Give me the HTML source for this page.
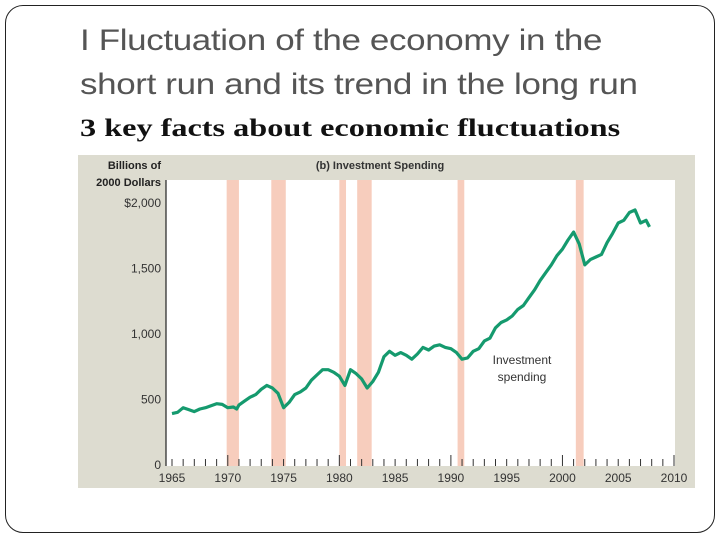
<!DOCTYPE html>
<html><head><meta charset="utf-8"><style>
body{margin:0;width:720px;height:540px;background:#fff;overflow:hidden;position:relative;font-family:"Liberation Sans",sans-serif}
.frame{position:absolute;left:5px;top:5px;width:708px;height:526px;border:1.5px solid #222;border-radius:18px}
.t{position:absolute;left:80px;color:#555;font-size:30px;line-height:44px;letter-spacing:-0.3px;transform-origin:0 0;transform:scaleX(1.165);white-space:nowrap}
.sub{position:absolute;left:80px;top:115px;font-family:"Liberation Serif",serif;font-weight:bold;font-size:25px;color:#111;transform-origin:0 0;transform:scaleX(1.29);white-space:nowrap}
</style></head><body>
<div class="frame"></div>
<div class="t" style="top:19px">I Fluctuation of the economy in the<br>short run and its trend in the long run</div>
<div class="sub">3 key facts about economic fluctuations</div>
<svg id="c" width="720" height="540" style="position:absolute;left:0;top:0"></svg>
<script>
const recessions=[[1969.9,1971.0],[1973.9,1975.2],[1980.0,1980.6],[1981.6,1982.9],[1990.6,1991.2],[2001.2,2001.9]];
const years=[1965,1965.5,1966,1966.5,1967,1967.5,1968,1968.5,1969,1969.5,1970,1970.5,1970.8,1971,1971.5,1972,1972.5,1973,1973.5,1974,1974.5,1975,1975.5,1976,1976.5,1977,1977.5,1978,1978.5,1979,1979.5,1980,1980.5,1981,1981.5,1982,1982.5,1983,1983.5,1984,1984.5,1985,1985.5,1986,1986.5,1987,1987.5,1988,1988.5,1989,1989.5,1990,1990.5,1991,1991.5,1992,1992.5,1993,1993.5,1994,1994.5,1995,1995.5,1996,1996.5,1997,1997.5,1998,1998.5,1999,1999.5,2000,2000.5,2001,2001.5,2002,2002.5,2003,2003.5,2004,2004.5,2005,2005.5,2006,2006.5,2007,2007.5,2007.8];
const values=[385,395,430,415,400,420,430,445,460,455,430,435,420,450,480,510,530,570,600,580,540,430,470,530,550,580,640,680,720,720,700,670,600,720,690,650,580,630,700,820,860,830,850,830,800,840,890,870,900,910,890,880,850,800,810,860,880,940,960,1040,1080,1100,1130,1180,1210,1270,1330,1400,1460,1520,1590,1640,1710,1770,1680,1520,1560,1580,1600,1690,1760,1840,1860,1920,1940,1840,1860,1810];
const xTicks=[1965,1970,1975,1980,1985,1990,1995,2000,2005,2010];
const yTicks=[0,500,1000,1500,2000];
const yLabels=["0","500","1,000","1,500","$2,000"];
const svg=document.getElementById('c');const NS='http://www.w3.org/2000/svg';
const X=y=>172+(y-1965)*(674-172)/45, Y=v=>464-v*0.131;
function el(t,a,p){const e=document.createElementNS(NS,t);for(const k in a)e.setAttribute(k,a[k]);(p||svg).appendChild(e);return e;}
let bg=el('rect',{x:78,y:155,width:617,height:333,fill:'#dddcd0'});


let pl=el('rect',{x:166,y:180,width:509,height:286,fill:'#fff'});


recessions.forEach(r=>{const b=el('rect',{x:X(r[0]),y:180,width:X(r[1])-X(r[0]),height:286,fill:'#f7cdbd'});

});
el('line',{x1:166,y1:180,x2:166,y2:466,stroke:'#222','stroke-width':1.2});
for(let y=1965;y<=2010;y++){const big=y%10==0;const t=el('line',{x1:X(y),y1:big?455:459,x2:X(y),y2:466,stroke:'#333','stroke-width':1});

}
xTicks.forEach(y=>{const t=el('text',{x:X(y),y:482,'text-anchor':'middle','font-size':12,fill:'#333'});t.textContent=y;

});
yTicks.forEach((v,i)=>{const t=el('text',{x:161,y:Y(v)+5,'text-anchor':'end','font-size':12,fill:'#333'});t.textContent=yLabels[i];

});
let a=el('text',{x:161,y:169,'text-anchor':'end','font-size':11,'font-weight':'bold',fill:'#222'});a.textContent='Billions of';


let a2=el('text',{x:161,y:186,'text-anchor':'end','font-size':11,'font-weight':'bold',fill:'#222'});a2.textContent='2000 Dollars';


let ti=el('text',{x:380,y:169,'text-anchor':'middle','font-size':11,'font-weight':'bold',fill:'#333'});ti.textContent='(b) Investment Spending';


let d=years.map((y,i)=>(i?'L':'M')+X(y).toFixed(1)+','+Y(values[i]).toFixed(1)).join('');
let ln=el('path',{d:d,fill:'none',stroke:'#159a6e','stroke-width':3.2,'stroke-linejoin':'round'});


let l1=el('text',{x:522,y:364,'text-anchor':'middle','font-size':12,fill:'#333'});l1.textContent='Investment';


let l2=el('text',{x:522,y:381,'text-anchor':'middle','font-size':12,fill:'#333'});l2.textContent='spending';


</script>
</body></html>
